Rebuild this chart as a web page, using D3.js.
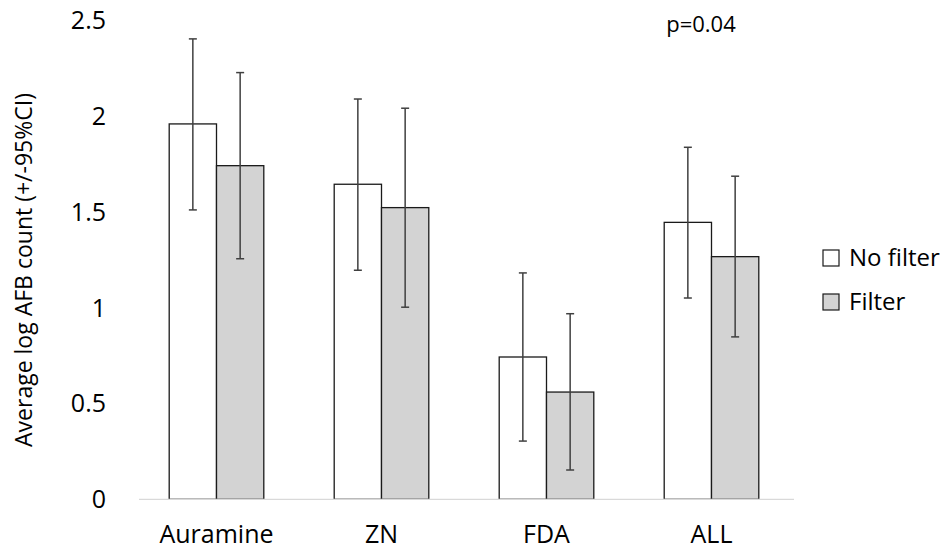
<!DOCTYPE html>
<html>
<head>
<meta charset="utf-8">
<script src="https://cdn.jsdelivr.net/npm/d3@7"></script>
<style>
  body { margin: 0; background: #fff; }
  text { font-family: "Open Sans", "Noto Sans", sans-serif; fill: #000; }
</style>
</head>
<body>
<div id="chart"></div>
<script>
const categories = ["Auramine", "ZN", "FDA", "ALL"];
const seriesNames = ["No filter", "Filter"];
const seriesFill = ["#ffffff", "#d3d3d3"];
// mean values
const noFilter = [1.96, 1.645, 0.743, 1.446];
const filter = [1.742, 1.523, 0.56, 1.267];
// 95% CI bounds
const noFilterLow = [1.511, 1.196, 0.304, 1.051];
const noFilterHigh = [2.404, 2.09, 1.182, 1.838];
const filterLow = [1.256, 1.003, 0.153, 0.848];
const filterHigh = [2.228, 2.042, 0.969, 1.687];
const yTicks = [0, 0.5, 1, 1.5, 2, 2.5];

const width = 948, height = 550;
const plot = { left: 134, right: 794, top: 20.5, bottom: 499.3 };

const svg = d3.select("#chart").append("svg")
  .attr("width", width)
  .attr("height", height);

const x0 = d3.scaleBand()
  .domain(categories)
  .range([plot.left, plot.right])
  .paddingInner(0.4267)
  .paddingOuter(0.4267 / 2);

const x1 = d3.scaleBand()
  .domain(seriesNames)
  .range([0, x0.bandwidth()]);

const y = d3.scaleLinear()
  .domain([0, 2.5])
  .range([plot.bottom, plot.top]);

// y tick labels (no axis line in original)
svg.append("g")
  .selectAll("text")
  .data(yTicks)
  .join("text")
  .attr("x", 106)
  .attr("y", d => y(d))
  .attr("dy", "0.35em")
  .attr("text-anchor", "end")
  .style("font-size", "25px")
  .text(d => d);

// data rows
const rows = categories.map((c, i) => [
  { cat: c, s: seriesNames[0], v: noFilter[i], lo: noFilterLow[i], hi: noFilterHigh[i], fill: seriesFill[0] },
  { cat: c, s: seriesNames[1], v: filter[i], lo: filterLow[i], hi: filterHigh[i], fill: seriesFill[1] }
]).flat();

svg.append("g")
  .selectAll("rect")
  .data(rows)
  .join("rect")
  .attr("x", d => x0(d.cat) + x1(d.s))
  .attr("y", d => y(d.v))
  .attr("width", x1.bandwidth())
  .attr("height", d => y(0) - y(d.v))
  .attr("fill", d => d.fill)
  .attr("stroke", "#1a1a1a")
  .attr("stroke-width", 1.3);

// x axis line
svg.append("line")
  .attr("x1", plot.left + 5).attr("x2", plot.right)
  .attr("y1", y(0)).attr("y2", y(0))
  .attr("stroke", "#d9d9d9")
  .attr("stroke-width", 1.3);

// error bars
const eb = svg.append("g").attr("stroke", "#404040").attr("stroke-width", 1.5);
const cx = d => x0(d.cat) + x1(d.s) + x1.bandwidth() / 2;
eb.selectAll(".stem").data(rows).join("line")
  .attr("x1", cx).attr("x2", cx)
  .attr("y1", d => y(d.hi)).attr("y2", d => y(d.lo));
eb.selectAll(".capHi").data(rows).join("line")
  .attr("x1", d => cx(d) - 4).attr("x2", d => cx(d) + 4)
  .attr("y1", d => y(d.hi)).attr("y2", d => y(d.hi));
eb.selectAll(".capLo").data(rows).join("line")
  .attr("x1", d => cx(d) - 4).attr("x2", d => cx(d) + 4)
  .attr("y1", d => y(d.lo)).attr("y2", d => y(d.lo));

// category labels
svg.append("g")
  .selectAll("text")
  .data(categories)
  .join("text")
  .attr("x", d => x0(d) + x0.bandwidth() / 2)
  .attr("y", 543)
  .attr("text-anchor", "middle")
  .style("font-size", "25px")
  .text(d => d);

// y axis title
svg.append("text")
  .attr("transform", "translate(32,270) rotate(-90)")
  .attr("text-anchor", "middle")
  .style("font-size", "23px")
  .text("Average log AFB count (+/-95%CI)");

// annotation
svg.append("text")
  .attr("x", 701)
  .attr("y", 31.5)
  .attr("text-anchor", "middle")
  .style("font-size", "22px")
  .text("p=0.04");

// legend
const legend = svg.append("g")
  .selectAll("g")
  .data(seriesNames)
  .join("g")
  .attr("transform", (d, i) => `translate(823,${250 + i * 44})`);
legend.append("rect")
  .attr("width", 16).attr("height", 16)
  .attr("fill", (d, i) => seriesFill[i])
  .attr("stroke", "#1a1a1a")
  .attr("stroke-width", 1.2);
legend.append("text")
  .attr("x", 26)
  .attr("y", 8)
  .attr("dy", "0.35em")
  .style("font-size", "24px")
  .text(d => d);
</script>
</body>
</html>
